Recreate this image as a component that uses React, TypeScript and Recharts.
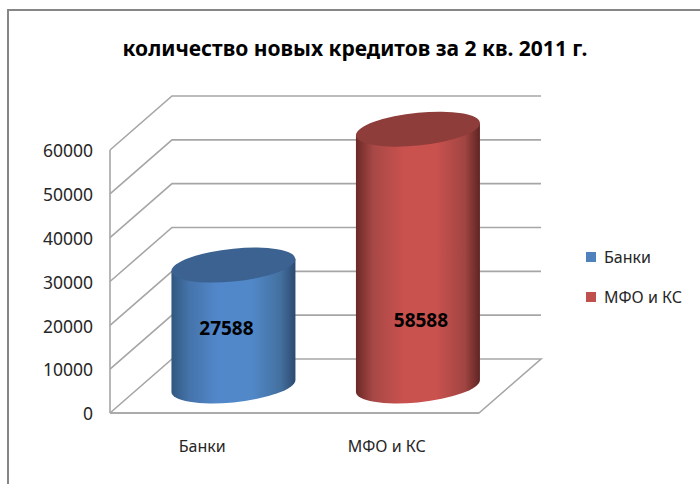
import React from 'react';
import { BarChart, Bar, XAxis, YAxis, CartesianGrid, Legend, LabelList } from 'recharts';

const categories = ['Банки', 'МФО и КС'];
const bankValues = [27588, null];
const mfoValues = [null, 58588];
const yTicks = [0, 10000, 20000, 30000, 40000, 50000, 60000];

const chartData = categories.map((name, i) => ({ name, bank: bankValues[i], mfo: mfoValues[i] }));

const FONT = '"Noto Sans", sans-serif';
const TEXT_COLOR = '#262626';
const GRID_COLOR = '#a6a6a6';

// the fake 3D box: how far the back wall sits from the front edge
const DEPTH_X = 62;
const DEPTH_Y = -54;
const CHART_W = 700;
const CHART_H = 484;
const PLOT_BOTTOM = 413;

const styles = {
    page: {
        position: 'absolute',
        left: 0,
        top: 0,
        width: CHART_W,
        height: CHART_H,
        overflow: 'hidden',
        background: '#fff',
    } as React.CSSProperties,
    frame: {
        position: 'absolute',
        left: 7,
        top: 9,
        width: 720,
        height: 520,
        border: '2px solid #868686',
    } as React.CSSProperties,
    title: {
        position: 'absolute',
        left: 0,
        top: 34,
        width: 710,
        textAlign: 'center',
        fontFamily: FONT,
        fontWeight: 700,
        fontSize: 21,
        color: '#000',
        whiteSpace: 'nowrap',
    } as React.CSSProperties,
};

const gridLine = (props: any) => {
    const { x1, y1, x2 } = props;
    const backY = y1 + DEPTH_Y;
    const isFloor = y1 >= PLOT_BOTTOM - 1;
    const points = isFloor
        ? `${x1},${y1} ${x1 + DEPTH_X},${backY} ${x2 + DEPTH_X},${backY} ${x2},${y1} ${x1},${y1}`
        : `${x1},${y1} ${x1 + DEPTH_X},${backY} ${x2 + DEPTH_X},${backY}`;
    return <polyline key={props.key ?? y1} points={points} fill="none" stroke={GRID_COLOR} strokeWidth={1.6} />;
};

const cylinder = (sideId: string, topColor: string) => (props: any) => {
    const { x, y, width, height } = props;
    if (!height || height <= 0) return <g />;
    const rx = width / 2;
    const ry = 16.4;
    const cx = x + rx + DEPTH_X / 2;
    const topY = y + DEPTH_Y / 2;
    return (
        <g transform={`matrix(1 -0.097 0 1 ${cx} ${topY})`}>
            <path
                d={`M ${-rx} 0 L ${-rx} ${height} A ${rx} ${ry} 0 0 0 ${rx} ${height} L ${rx} 0 Z`}
                fill={`url(#${sideId})`}
            />
            <ellipse cx={0} cy={0} rx={rx} ry={ry} fill={topColor} />
        </g>
    );
};

const valueLabel = (dx: number, dy: number) => (props: any) => {
    const { x, y, width, height, value } = props;
    if (value == null || !height) return null;
    return (
        <text
            x={x + width / 2 + dx}
            y={y + height / 2 + dy}
            textAnchor="middle"
            dominantBaseline="central"
            fontFamily={FONT}
            fontWeight={700}
            fontSize={19}
            fill="#000"
        >
            {value}
        </text>
    );
};

const renderLegend = (props: any) => (
    <div>
        {(props.payload || []).map((item: any) => (
            <div
                key={item.value}
                style={{ display: 'flex', alignItems: 'center', height: 40, fontFamily: FONT, fontSize: 16, color: TEXT_COLOR, whiteSpace: 'nowrap' }}
            >
                <span style={{ width: 10, height: 10, background: item.color, marginRight: 8, flex: 'none' }} />
                {item.value}
            </div>
        ))}
    </div>
);

const App = () => (
    <div style={styles.page}>
        <div style={styles.frame} />
        <div style={styles.title}>количество новых кредитов за 2 кв. 2011 г.</div>
        <div style={{ position: 'absolute', left: 0, top: 0 }}>
            <BarChart
                width={CHART_W}
                height={CHART_H}
                data={chartData}
                margin={{ top: 150, right: 107, bottom: 41, left: 50 }}
                barCategoryGap="16.5%"
            >
                <defs>
                    <linearGradient id="bankSide" x1="0" y1="0" x2="1" y2="0">
                        <stop offset="0%" stopColor="#30587f" />
                        <stop offset="14%" stopColor="#4573aa" />
                        <stop offset="38%" stopColor="#5288cb" />
                        <stop offset="65%" stopColor="#5088c8" />
                        <stop offset="88%" stopColor="#44709f" />
                        <stop offset="100%" stopColor="#2b4a70" />
                    </linearGradient>
                    <linearGradient id="mfoSide" x1="0" y1="0" x2="1" y2="0">
                        <stop offset="0%" stopColor="#6b2927" />
                        <stop offset="14%" stopColor="#a74846" />
                        <stop offset="38%" stopColor="#c9514e" />
                        <stop offset="65%" stopColor="#c9514e" />
                        <stop offset="88%" stopColor="#a04542" />
                        <stop offset="100%" stopColor="#5e2422" />
                    </linearGradient>
                </defs>
                <CartesianGrid vertical={false} horizontal={gridLine} />
                <XAxis
                    dataKey="name"
                    height={30}
                    tickLine={false}
                    tickSize={0}
                    tickMargin={28}
                    axisLine={{ stroke: GRID_COLOR, strokeWidth: 1.6 }}
                    tick={{ fill: TEXT_COLOR, fontFamily: FONT, fontSize: 16 }}
                />
                <YAxis
                    width={60}
                    domain={[0, 60000]}
                    ticks={yTicks}
                    interval={0}
                    tickLine={false}
                    tickSize={0}
                    tickMargin={17}
                    axisLine={{ stroke: GRID_COLOR, strokeWidth: 1.6 }}
                    tick={{ fill: TEXT_COLOR, fontFamily: FONT, fontSize: 17.5, dy: 1 }}
                />
                <Legend
                    layout="vertical"
                    align="right"
                    verticalAlign="top"
                    content={renderLegend}
                    wrapperStyle={{ position: 'absolute', left: 586, top: 237, width: 114 }}
                />
                <Bar dataKey="bank" name="Банки" stackId="a" fill="#4f81bd" isAnimationActive={false} shape={cylinder('bankSide', '#3b6290')}>
                    <LabelList dataKey="bank" content={valueLabel(24, -25)} />
                </Bar>
                <Bar dataKey="mfo" name="МФО и КС" stackId="a" fill="#c0504d" isAnimationActive={false} shape={cylinder('mfoSide', '#8f3d3a')}>
                    <LabelList dataKey="mfo" content={valueLabel(34, 35)} />
                </Bar>
            </BarChart>
        </div>
    </div>
);

export default App;
